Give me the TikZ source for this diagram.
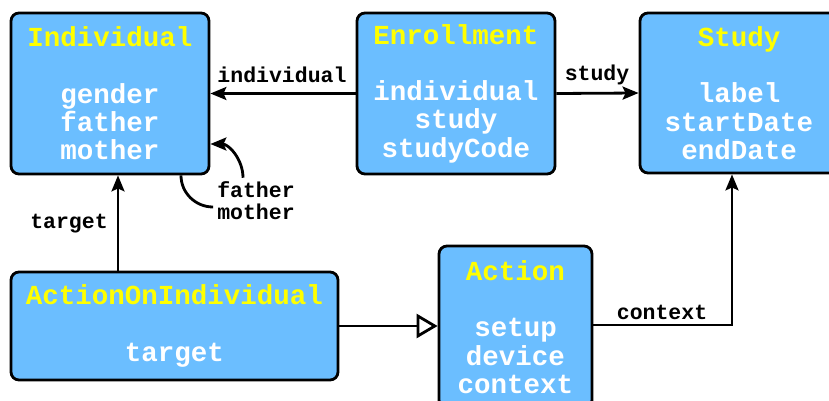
\documentclass[tikz,border=0pt]{standalone}
\usepackage{fontspec}
\newfontfamily\courbf{Liberation Mono}[BoldFont={Liberation Mono Bold}]
\usetikzlibrary{arrows.meta}
\definecolor{boxblue}{RGB}{107,190,255}
\definecolor{titleyellow}{RGB}{255,255,0}
\tikzset{
  classbox/.style={draw=black, line width=2.8pt, fill=boxblue, rounded corners=8pt,
    inner sep=0pt, align=center, text=white,
    font=\courbf\bfseries\fontsize{27.5}{28.3}\selectfont},
  rolelabel/.style={inner sep=0pt, align=center, text=black,
    font=\courbf\bfseries\fontsize{21.5}{22}\selectfont},
  link/.style={draw=black, line width=2.8pt},
  assoc/.style={link, -{Stealth[length=16pt, width=13pt, inset=3pt]}},
  inherit/.style={link, -{Triangle[open, length=21pt, width=24pt]}}
}
\newcommand{\ttl}[1]{\textcolor{titleyellow}{#1}}
\begin{document}
\begin{tikzpicture}[x=1pt, y=-1pt]
\useasboundingbox (0,0) rectangle (829,401);

% classes
\node[classbox, minimum width=198pt, minimum height=161pt] (ind) at (110,93.5)
  {\ttl{Individual}\\[28.3pt] gender\\ father\\ mother};
\node[classbox, minimum width=198pt, minimum height=161pt] (enr) at (456,93.5)
  {\ttl{Enrollment}\\[28.3pt] individual\\ study\\ studyCode};
\node[classbox, minimum width=198pt, minimum height=160pt] (study) at (739,93)
  {\ttl{Study}\\[28.3pt] label\\ startDate\\ endDate};
\node[classbox, minimum width=327pt, minimum height=108pt] (aoi) at (174.5,326)
  {\ttl{ActionOnIndividual}\\[28.3pt] target};
\node[classbox, minimum width=153pt, minimum height=162pt] (act) at (515.5,327)
  {\ttl{Action}\\[28.3pt] setup\\ device\\ context};

% role labels
\node[rolelabel] (lind) at (282,75) {individual};
\node[rolelabel] (lstudy) at (597,75) {study};
\node[rolelabel] (ltarget) at (69,224) {target};
\node[rolelabel] (lctx) at (662,312) {context};
\node[rolelabel] (lfm) at (256,201) {father\\mother};

% associations
\draw[assoc] (enr.west) -- (ind.east);
\draw[assoc] (enr.east) -- (study.west);
\draw[assoc] (aoi.north -| 118,0) -- (ind.south -| 118,0);
\coordinate (ctxbend) at (732,325);
\draw[assoc] (act.east |- ctxbend) -| (study.south -| ctxbend);

% parent links of Individual
\draw[link] (ind.south -| 181,0) to[out=-90, in=180] ([xshift=-4pt]lfm.west |- 0,207);
\draw[assoc] ([yshift=4pt]lfm.north -| 243,0) to[out=90, in=0] (ind.east |- 0,144);

% generalization
\draw[inherit] (aoi.east) -- (aoi.east -| act.west);
\end{tikzpicture}
\end{document}
